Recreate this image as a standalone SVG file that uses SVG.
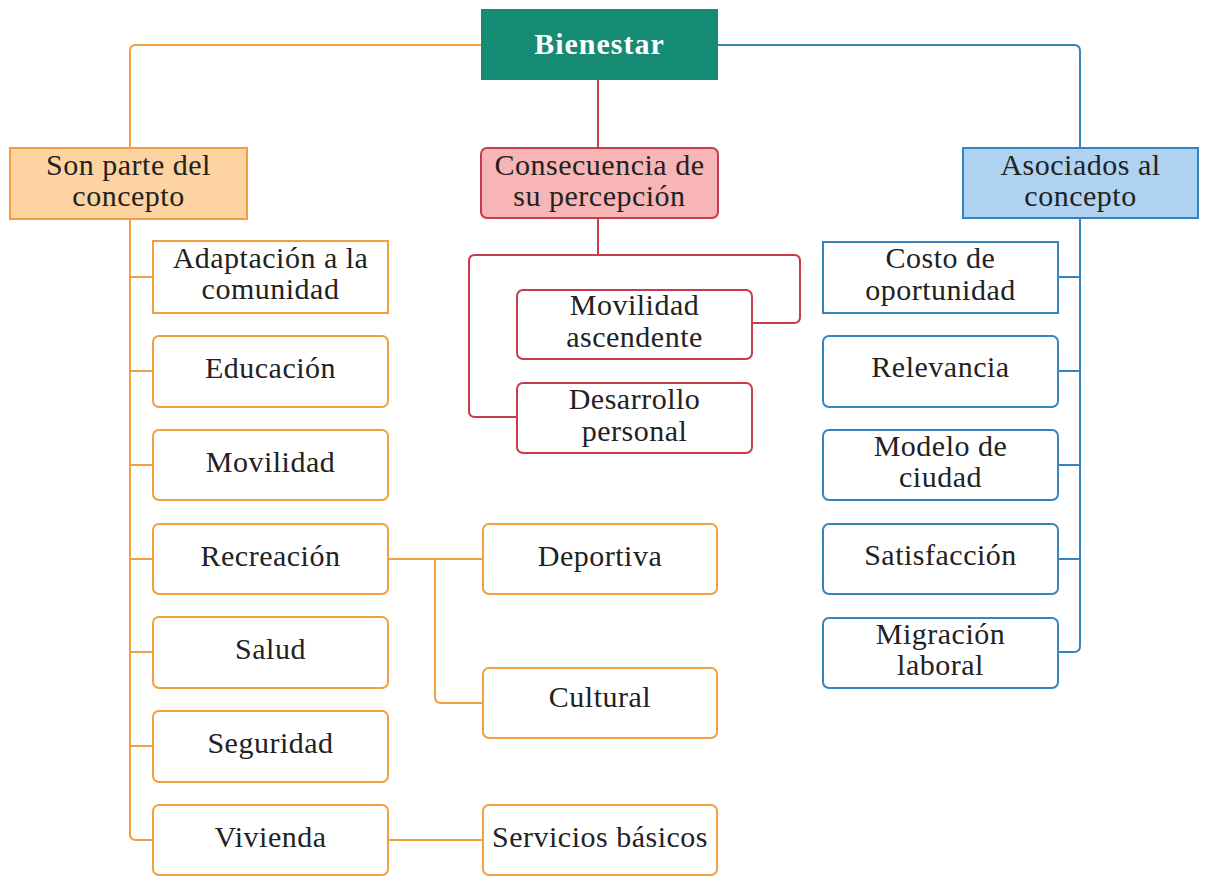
<svg xmlns="http://www.w3.org/2000/svg" width="1205" height="876" viewBox="0 0 1205 876">
<style>
text{font-family:"Liberation Serif","Times New Roman",serif;font-size:30px;letter-spacing:0.5px;fill:#222;text-anchor:middle}
.o{fill:#fff;stroke:#f0a040;stroke-width:2}
.r{fill:#fff;stroke:#c83a4c;stroke-width:2}
.b{fill:#fff;stroke:#3584c0;stroke-width:2}
.lo{fill:none;stroke:#f0a040;stroke-width:2}
.lr{fill:none;stroke:#c83a4c;stroke-width:2}
.lb{fill:none;stroke:#3584c0;stroke-width:2}
</style>
<rect width="1205" height="876" fill="#fff"/>
<g id="connectors">
<path class="lo" d="M481,45 H136 Q130,45 130,51 V148"/>
<path class="lo" d="M130,219 V834 Q130,840 136,840 H153"/>
<path class="lo" d="M130,277 H153 M130,371 H153 M130,465 H153 M130,559 H153 M130,652 H153 M130,746 H153"/>
<path class="lo" d="M388,559 H483 M435,559 V697 Q435,703 441,703 H483"/>
<path class="lo" d="M388,840 H483"/>
<path class="lr" d="M598,80 V148"/>
<path class="lr" d="M598,218 V255"/>
<path class="lr" d="M598,255 H475 Q469,255 469,261 V411 Q469,417 475,417 H517"/>
<path class="lr" d="M598,255 H794 Q800,255 800,261 V317 Q800,323 794,323 H752"/>
<path class="lb" d="M718,45 H1074 Q1080,45 1080,51 V148"/>
<path class="lb" d="M1080,218 V646 Q1080,652 1074,652 H1058"/>
<path class="lb" d="M1080,277 H1058 M1080,371 H1058 M1080,465 H1058 M1080,559 H1058"/>
</g>
<g id="bienestar">
<rect x="481" y="9" width="237" height="71" fill="#168b74"/>
<text x="599.5" y="54" style="font-weight:bold;fill:#fff;font-size:30px;letter-spacing:1px">Bienestar</text>
</g>
<g id="son-parte">
<rect x="10" y="148" width="237" height="71" fill="#fdd3a1" stroke="#f0a040" stroke-width="2"/>
<text x="128.5" y="175">Son parte del</text>
<text x="128.5" y="206">concepto</text>
</g>
<g id="consecuencia">
<rect x="481" y="148" width="237" height="70" rx="6" fill="#f8b5b5" stroke="#c83a4c" stroke-width="2"/>
<text x="599.5" y="175">Consecuencia de</text>
<text x="599.5" y="206">su percepción</text>
</g>
<g id="asociados">
<rect x="963" y="148" width="235" height="70" fill="#aed2ef" stroke="#3584c0" stroke-width="2"/>
<text x="1080.5" y="175">Asociados al</text>
<text x="1080.5" y="206">concepto</text>
</g>
<g id="adaptacion">
<rect class="o" x="153" y="241" width="235" height="72"/>
<text x="270.5" y="268">Adaptación a la</text>
<text x="270.5" y="299">comunidad</text>
</g>
<g id="educacion">
<rect class="o" x="153" y="336" width="235" height="71" rx="6"/>
<text x="270.5" y="378">Educación</text>
</g>
<g id="movilidad">
<rect class="o" x="153" y="430" width="235" height="70" rx="6"/>
<text x="270.5" y="472">Movilidad</text>
</g>
<g id="recreacion">
<rect class="o" x="153" y="524" width="235" height="70" rx="6"/>
<text x="270.5" y="566">Recreación</text>
</g>
<g id="salud">
<rect class="o" x="153" y="617" width="235" height="71" rx="6"/>
<text x="270.5" y="659">Salud</text>
</g>
<g id="seguridad">
<rect class="o" x="153" y="711" width="235" height="71" rx="6"/>
<text x="270.5" y="753">Seguridad</text>
</g>
<g id="vivienda">
<rect class="o" x="153" y="805" width="235" height="70" rx="6"/>
<text x="270.5" y="847">Vivienda</text>
</g>
<g id="deportiva">
<rect class="o" x="483" y="524" width="234" height="70" rx="6"/>
<text x="600" y="566">Deportiva</text>
</g>
<g id="cultural">
<rect class="o" x="483" y="668" width="234" height="70" rx="6"/>
<text x="600" y="707">Cultural</text>
</g>
<g id="servicios">
<rect class="o" x="483" y="805" width="234" height="70" rx="6"/>
<text x="600" y="847">Servicios básicos</text>
</g>
<g id="movilidad-ascendente">
<rect class="r" x="517" y="290" width="235" height="69" rx="6"/>
<text x="634.5" y="315">Movilidad</text>
<text x="634.5" y="347">ascendente</text>
</g>
<g id="desarrollo">
<rect class="r" x="517" y="383" width="235" height="70" rx="6"/>
<text x="634.5" y="409">Desarrollo</text>
<text x="634.5" y="441">personal</text>
</g>
<g id="costo">
<rect class="b" x="823" y="242" width="235" height="71"/>
<text x="940.5" y="268">Costo de</text>
<text x="940.5" y="300">oportunidad</text>
</g>
<g id="relevancia">
<rect class="b" x="823" y="336" width="235" height="71" rx="6"/>
<text x="940.5" y="377">Relevancia</text>
</g>
<g id="modelo">
<rect class="b" x="823" y="430" width="235" height="70" rx="6"/>
<text x="940.5" y="456">Modelo de</text>
<text x="940.5" y="487">ciudad</text>
</g>
<g id="satisfaccion">
<rect class="b" x="823" y="524" width="235" height="70" rx="6"/>
<text x="940.5" y="565">Satisfacción</text>
</g>
<g id="migracion">
<rect class="b" x="823" y="618" width="235" height="70" rx="6"/>
<text x="940.5" y="644">Migración</text>
<text x="940.5" y="675">laboral</text>
</g>
</svg>
